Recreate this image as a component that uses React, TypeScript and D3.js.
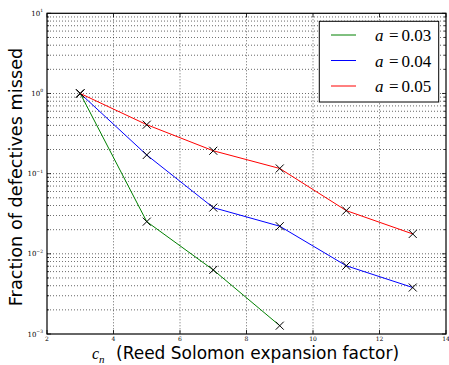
import React from 'react';
import * as d3 from 'd3';

// chart values
const cnA03 = [3, 5, 7, 9];
const missedA03 = [1.0, 0.0252, 0.0063, 0.00127];
const cnA04 = [3, 5, 7, 9, 11, 13];
const missedA04 = [1.0, 0.171, 0.0377, 0.0221, 0.0071, 0.0038];
const cnA05 = [3, 5, 7, 9, 11, 13];
const missedA05 = [1.0, 0.408, 0.193, 0.116, 0.0346, 0.0177];

const seriesLabels = ['0.03', '0.04', '0.05'];
const seriesColors = ['#008000', '#0000ff', '#ff0000'];
const xTickValues = [2, 4, 6, 8, 10, 12, 14];
const yDecadeExponents = [-3, -2, -1, 0, 1];

const W = 449;
const H = 365;
const margin = { top: 13.3, right: 3, bottom: 31, left: 47 };

const App = () => {
  const x = d3.scaleLinear().domain([2, 14]).range([margin.left, W - margin.right]);
  const y = d3.scaleLog().domain([1e-3, 10]).range([H - margin.bottom, margin.top]);

  const series = [
    { xs: cnA03, ys: missedA03 },
    { xs: cnA04, ys: missedA04 },
    { xs: cnA05, ys: missedA05 },
  ].map((s, i) => ({
    pts: s.xs.map((v, j) => [v, s.ys[j]] as [number, number]),
    color: seriesColors[i],
    label: seriesLabels[i],
  }));

  const line = d3
    .line<[number, number]>()
    .x((d) => x(d[0]))
    .y((d) => y(d[1]));

  // log ticks: majors at decades, minors at 2..9
  const minorY: number[] = [];
  yDecadeExponents.slice(0, -1).forEach((e) => {
    for (let m = 2; m <= 9; m++) minorY.push(m * Math.pow(10, e));
  });
  const majorY = yDecadeExponents.map((e) => Math.pow(10, e));

  const [x0, x1] = x.range();
  const [yb, yt] = y.range();
  const gridStyle = { stroke: '#000', strokeWidth: 0.8, strokeDasharray: '1,2', opacity: 0.75 };

  return (
    <svg
      width={W}
      height={H}
      style={{ position: 'absolute', left: 0, top: 0, background: '#fff' }}
      fontFamily="'DejaVu Sans', sans-serif"
    >
      {/* grid */}
      <g>
        {xTickValues.slice(1, -1).map((v) => (
          <line key={'gx' + v} x1={x(v)} x2={x(v)} y1={yt} y2={yb} {...gridStyle} />
        ))}
        {[...majorY.slice(1, -1), ...minorY].map((v, i) => (
          <line key={'gy' + i} x1={x0} x2={x1} y1={y(v)} y2={y(v)} {...gridStyle} />
        ))}
      </g>

      {/* ticks */}
      <g stroke="#000" strokeWidth={0.8}>
        {xTickValues.map((v) => (
          <g key={'tx' + v}>
            <line x1={x(v)} x2={x(v)} y1={yb} y2={yb - 4} />
            <line x1={x(v)} x2={x(v)} y1={yt} y2={yt + 4} />
          </g>
        ))}
        {majorY.map((v, i) => (
          <g key={'tyM' + i}>
            <line x1={x0} x2={x0 + 4} y1={y(v)} y2={y(v)} />
            <line x1={x1} x2={x1 - 4} y1={y(v)} y2={y(v)} />
          </g>
        ))}
        {minorY.map((v, i) => (
          <g key={'tym' + i}>
            <line x1={x0} x2={x0 + 2} y1={y(v)} y2={y(v)} />
            <line x1={x1} x2={x1 - 2} y1={y(v)} y2={y(v)} />
          </g>
        ))}
      </g>

      {/* series */}
      {series.map((s) => (
        <g key={s.label}>
          <path d={line(s.pts) || ''} fill="none" stroke={s.color} strokeWidth={1} />
          {s.pts.map((p, j) => (
            <path
              key={j}
              d={`M${x(p[0]) - 4},${y(p[1]) - 4}L${x(p[0]) + 4},${y(p[1]) + 4}M${x(p[0]) - 4},${y(p[1]) + 4}L${x(p[0]) + 4},${y(p[1]) - 4}`}
              stroke="#000"
              strokeWidth={1}
            />
          ))}
        </g>
      ))}

      {/* frame */}
      <rect x={x0} y={yt} width={x1 - x0} height={yb - yt} fill="none" stroke="#000" strokeWidth={1.2} />

      {/* x tick labels */}
      {xTickValues.map((v) => (
        <text key={'lx' + v} x={x(v)} y={yb + 6.5} fontSize={6} textAnchor="middle" fontFamily="'DejaVu Serif', serif">
          {v}
        </text>
      ))}

      {/* y tick labels */}
      {yDecadeExponents.map((e) => (
        <text key={'ly' + e} x={x0 - 4} y={y(Math.pow(10, e)) + 2.5} fontSize={7} textAnchor="end" fontFamily="'DejaVu Serif', serif">
          10
          <tspan fontSize={4.5} dy={-3.5}>
            {e < 0 ? '\u2212' + Math.abs(e) : e}
          </tspan>
        </text>
      ))}

      {/* axis labels */}
      <text transform={`translate(22,177) rotate(-90)`} textAnchor="middle" fontSize={17.7} fill="#000">
        Fraction of defectives missed
      </text>
      <text x={92} y={359} fontSize={17} fill="#000">
        <tspan fontFamily="'Liberation Serif', serif" fontStyle="italic" fontSize={16}>c</tspan>
        <tspan fontFamily="'Liberation Serif', serif" fontStyle="italic" fontSize={11} dy={4}>n</tspan>
        <tspan x={116} dy={-4}>(Reed Solomon expansion factor)</tspan>
      </text>

      {/* legend */}
      <g>
        <rect x={319.3} y={21.3} width={119.4} height={80.7} fill="#fff" stroke="#000" strokeWidth={1} />
        {series.map((s, i) => (
          <g key={'lg' + s.label} transform={`translate(0,${35 + i * 25.5})`}>
            <line x1={331} x2={356} y1={0} y2={0} stroke={s.color} strokeWidth={1} />
            <text x={375} y={6} fontSize={17} fontFamily="'Liberation Serif', serif">
              <tspan fontStyle="italic">a</tspan>
              <tspan x={389}>=</tspan>
              <tspan x={401.5}>{s.label}</tspan>
            </text>
          </g>
        ))}
      </g>
    </svg>
  );
};

export default App;
